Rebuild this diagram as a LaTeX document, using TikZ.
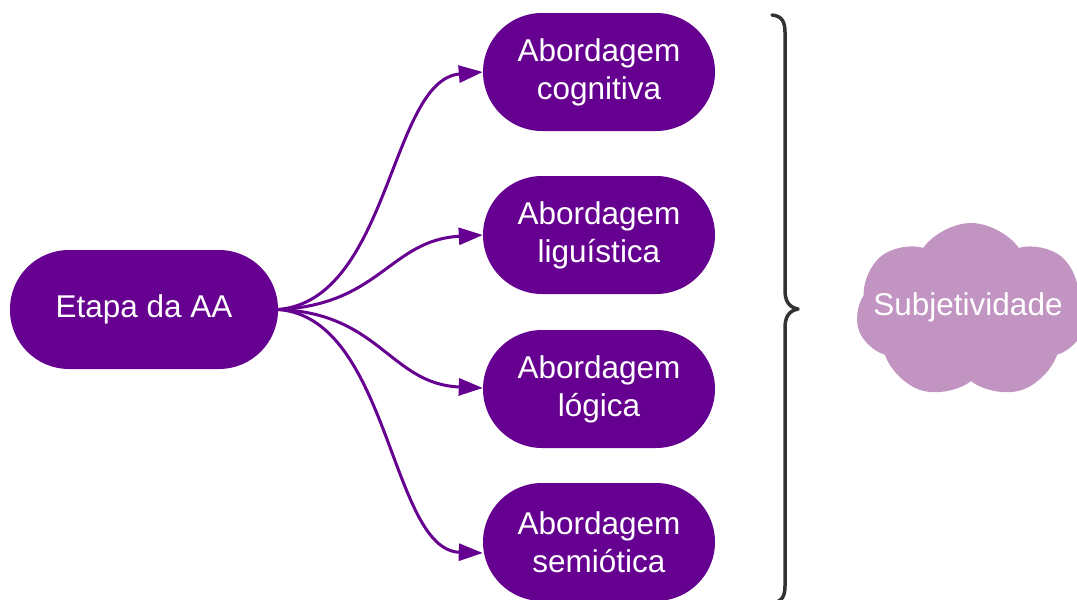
\documentclass[tikz,border=0pt]{standalone}
\usepackage{fontspec}
\setmainfont{Liberation Sans}
\usetikzlibrary{arrows.meta,shapes.symbols,calc}
\definecolor{aapurple}{HTML}{660090}
\definecolor{aacloud}{HTML}{C194C2}
\definecolor{aabrace}{HTML}{333333}
\tikzset{
  pill/.style={fill=aapurple, draw=none, rounded corners=59pt, text=white, align=center,
    font=\fontsize{31.5}{38}\selectfont, inner sep=0pt},
  conn/.style={draw=aapurple, line width=3pt, -{Triangle[length=24pt,width=17pt]}},
  bracestyle/.style={draw=aabrace, line width=3.5pt, line cap=round, line join=round},
  cloudbox/.style={cloud, cloud puffs=7, cloud puff arc=110, fill=aacloud, draw=none,
    minimum width=230pt, minimum height=176pt, inner sep=0pt},
  cloudtext/.style={text=white, font=\fontsize{31.5}{38}\selectfont}
}
\begin{document}
\begin{tikzpicture}[x=1pt,y=-1pt]
\useasboundingbox (0,0) rectangle (1077,600);
\clip (0,0) rectangle (1077,600);
\node[pill, minimum width=268pt, minimum height=119pt] (etapa) at (144,309.5) {Etapa da AA};
\node[pill, minimum width=232pt, minimum height=118pt] (b1) at (599,72) {Abordagem\\cognitiva};
\node[pill, minimum width=232pt, minimum height=118pt] (b2) at (599,235) {Abordagem\\liguística};
\node[pill, minimum width=232pt, minimum height=118pt] (b3) at (599,389) {Abordagem\\lógica};
\node[pill, minimum width=232pt, minimum height=118pt] (b4) at (599,542) {Abordagem\\semiótica};
\node[cloudbox] (sub) at (971,311) {};
\node[cloudtext] (subtext) at (968,307) {Subjetividade};
\draw[conn] (etapa.east) .. controls (390,300) and (390,80) .. (b1.west);
\draw[conn] (etapa.east) .. controls (380,305) and (390,240) .. (b2.west);
\draw[conn] (etapa.east) .. controls (380,313) and (390,384) .. ($(b3.west)+(0,-1)$);
\draw[conn] (etapa.east) .. controls (390,318) and (390,550) .. ($(b4.west)+(0,11)$);
\coordinate (bt) at (772,15);
\coordinate (bm) at (798,309);
\coordinate (bb) at (772,603);
\draw[bracestyle] (bt) .. controls (782,16) and (785,22) .. (785,32)
  -- (785,290) .. controls (785,300) and (788,307) .. (bm)
  .. controls (788,311) and (785,318) .. (785,328)
  -- (785,586) .. controls (785,596) and (782,602) .. (bb);
\end{tikzpicture}
\end{document}
